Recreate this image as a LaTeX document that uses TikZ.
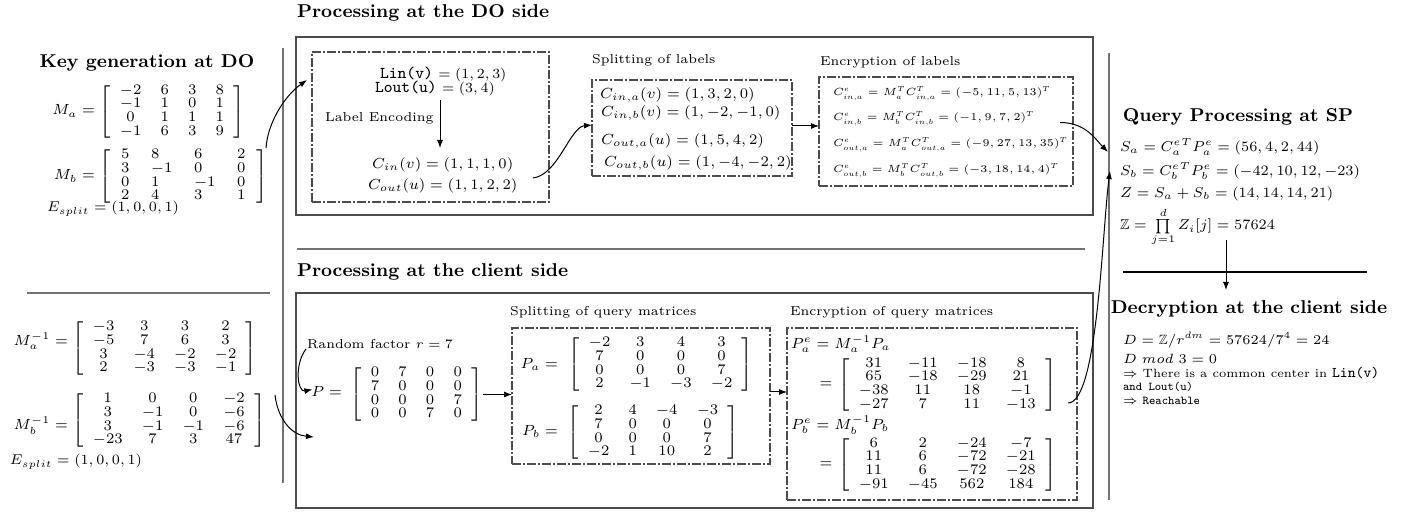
\RequirePackage{fix-cm}
\documentclass[tikz,border=0pt]{standalone}
\usepackage{amsmath,amssymb}
\usetikzlibrary{arrows.meta,calc,fit}
\setlength\arraycolsep{4.8pt}
\renewcommand\arraystretch{0.85}
\definecolor{lgray}{gray}{0.45}
\definecolor{dgray}{gray}{0.3}
\newcommand\ttA[1]{{\fontsize{8.3}{9}\selectfont\texttt{#1}}}
\newcommand\ttB[1]{{\fontsize{7.4}{9}\selectfont\texttt{#1}}}
\tikzset{
 every node/.style={inner sep=0pt, outer sep=0pt},
 head/.style={font=\fontsize{9.3}{11}\selectfont\bfseries},
 subt/.style={font=\fontsize{6.47}{8}\selectfont},
 fA/.style={font=\fontsize{7}{8}\selectfont},
 fC/.style={font=\fontsize{7.3}{9}\selectfont},
 fEs/.style={font=\fontsize{7.1}{8}\selectfont},
 fS/.style={font=\fontsize{7.34}{9}\selectfont},
 fE/.style={font=\fontsize{5.2}{7}\selectfont},
 mat/.style={font=\fontsize{7.34}{8}\selectfont},
 fQ/.style={font=\fontsize{7.17}{9}\selectfont},
 fD/.style={font=\fontsize{6.7}{8}\selectfont},
 fT/.style={font=\fontsize{6.0}{7}\selectfont},
 frame/.style={draw=dgray, line width=0.8pt},
 ddbox/.style={draw=dgray, line width=0.6pt, dash pattern=on 4.5pt off 1.2pt on 0.6pt off 1.2pt},
 sepline/.style={draw=lgray, line width=0.9pt},
 arr/.style={-{Latex[length=4pt,width=3pt]}, line width=0.5pt},
}
\begin{document}
\begin{tikzpicture}[x=0.5pt,y=0.5pt]
\useasboundingbox (0,0) rectangle (1424,-512);
% separators
\draw[sepline] (283,-48) -- (283,-483);
\draw[sepline] (1109,-53) -- (1109,-500);
\draw[sepline] (27,-293) -- (270,-293);
\draw[sepline] (297,-249) -- (1085,-249);
\draw[line width=0.6pt] (1123,-272) -- (1367,-272);

% ---------- Key generation ----------
\node[head] (keyhead) at (147,-63) {Key generation at DO};
\node[mat, anchor=base east] (MaL) at (95,-115) {$M_a =$};
\node[mat, anchor=west] (Ma) at (99,-112) {$\left[\begin{array}{cccc} -2&6&3&8\\ -1&1&0&1\\ 0&1&1&1\\ -1&6&3&9 \end{array}\right]$};
\node[mat, anchor=base east] (MbL) at (95,-180) {$M_b =$};
\node[mat, anchor=west] (Mb) at (99,-176.5) {$\setlength\arraycolsep{5.4pt}\left[\begin{array}{llll} 5&8&6&2\\ 3&-1&0&0\\ 0&1&-1&0\\ 2&4&3&1 \end{array}\right]$};
\node[fEs, anchor=base west] (Es1) at (47,-212) {$E_{split} = (1,0,0,1)$};

\node[mat, anchor=base east] (MaiL) at (68,-345.5) {$M_a^{-1} =$};
\node[mat, anchor=west] (Mai) at (72,-348.5) {$\left[\begin{array}{cccc} -3&3&3&2\\ -5&7&6&3\\ 3&-4&-2&-2\\ 2&-3&-3&-1 \end{array}\right]$};
\node[mat, anchor=base east] (MbiL) at (68,-430) {$M_b^{-1} =$};
\node[mat, anchor=west] (Mbi) at (72,-420.5) {$\left[\begin{array}{cccc} 1&0&0&-2\\ 3&-1&0&-6\\ 3&-1&-1&-6\\ -23&7&3&47 \end{array}\right]$};
\node[fEs, anchor=base west] (Es2) at (10,-465) {$E_{split} = (1,0,0,1)$};

% ---------- DO side ----------
\node[head, anchor=west] (dohead) at (297,-13) {Processing at the DO side};
\node[fit={(296,-37) (1093,-215)}, frame] (dobox) {};
\node[fit={(312,-52) (549,-202)}, ddbox] (b1) {};
\node[fA, anchor=west] (lin) at (380,-74) {\ttA{Lin(v)} $=(1,2,3)$};
\node[fA, anchor=west] (lout) at (375,-88) {\ttA{Lout(u)} $=(3,4)$};
\node[subt, anchor=west] (lenc) at (325,-118) {Label Encoding};
\coordinate (le1) at (440,-100);
\coordinate (le2) at (440,-148);
\draw[arr] (le1) -- (le2);
\node[fC, anchor=west] (cin) at (372,-165) {$C_{in}(v) = (1,1,1,0)$};
\node[fC, anchor=west] (cout) at (368,-186) {$C_{out}(u) = (1,1,2,2)$};

\node[subt, anchor=west] (splT) at (592,-60) {Splitting of labels};
\node[fit={(592,-80) (792,-176)}, ddbox] (b2) {};
\node[fS, anchor=west] (s1) at (600,-95) {$C_{in,a}(v) = (1,3,2,0)$};
\node[fS, anchor=west] (s2) at (601,-113) {$C_{in,b}(v) = (1,-2,-1,0)$};
\node[fS, anchor=west] (s3) at (601,-141) {$C_{out,a}(u) = (1,5,4,2)$};
\node[fS, anchor=west] (s4) at (604,-163) {$C_{out,b}(u) = (1,-4,-2,2)$};

\node[subt, anchor=west] (encT) at (820,-62) {Encryption of labels};
\node[fit={(819,-77) (1073,-186)}, ddbox] (b3) {};
\node[fE, anchor=west] (e1) at (833,-94) {$C^e_{in,a} = M_a^T C_{in,a}^T = (-5,11,5,13)^T$};
\node[fE, anchor=west] (e2) at (833,-119) {$C^e_{in,b} = M_b^T C_{in,b}^T = (-1,9,7,2)^T$};
\node[fE, anchor=west] (e3) at (833,-145) {$C^e_{out,a} = M_a^T C_{out,a}^T = (-9,27,13,35)^T$};
\node[fE, anchor=west] (e4) at (833,-171) {$C^e_{out,b} = M_b^T C_{out,b}^T = (-3,18,14,4)^T$};

% ---------- client side ----------
\node[head, anchor=west] (clhead) at (297,-272) {Processing at the client side};
\node[fit={(296,-293) (1093,-508)}, frame] (clbox) {};
\node[subt, anchor=west] (rf) at (307,-344) {Random factor $r=7$};
\node[mat, anchor=base east] (PL) at (342,-396.5) {$P =$};
\node[mat, anchor=west] (P) at (350,-394.5) {$\left[\begin{array}{cccc} 0&7&0&0\\ 7&0&0&0\\ 0&0&0&7\\ 0&0&7&0 \end{array}\right]$};

\node[subt, anchor=west] (qsT) at (510,-312) {Splitting of query matrices};
\node[fit={(512,-328) (770,-464)}, ddbox] (b4) {};
\node[mat, anchor=base east] (PaL) at (558,-368.5) {$P_a =$};
\node[mat, anchor=west] (Pa) at (568,-364.5) {$\left[\begin{array}{cccc} -2&3&4&3\\ 7&0&0&0\\ 0&0&0&7\\ 2&-1&-3&-2 \end{array}\right]$};
\node[mat, anchor=base east] (PbL) at (558,-435.5) {$P_b =$};
\node[mat, anchor=west] (Pb) at (567,-432.5) {$\left[\begin{array}{cccc} 2&4&-4&-3\\ 7&0&0&0\\ 0&0&0&7\\ -2&1&10&2 \end{array}\right]$};

\node[subt, anchor=west] (qeT) at (790,-312) {Encryption of query matrices};
\node[fit={(787,-328) (1077,-500)}, ddbox] (b5) {};
\node[mat, anchor=west] (PaeL) at (791,-344) {$P_a^e = M_a^{-1} P_a$};
\node[mat] (eq1) at (826,-385) {$=$};
\node[mat, anchor=west] (Pae) at (838,-385) {$\left[\begin{array}{cccc} 31&-11&-18&8\\ 65&-18&-29&21\\ -38&11&18&-1\\ -27&7&11&-13 \end{array}\right]$};
\node[mat, anchor=west] (PbeL) at (791,-425) {$P_b^e = M_b^{-1} P_b$};
\node[mat] (eq2) at (826,-465) {$=$};
\node[mat, anchor=west] (Pbe) at (838,-465) {$\left[\begin{array}{cccc} 6&2&-24&-7\\ 11&6&-72&-21\\ 11&6&-72&-28\\ -91&-45&562&184 \end{array}\right]$};

% ---------- SP ----------
\node[head] (sphead) at (1238,-117) {Query Processing at SP};
\node[fQ, anchor=west] (sa) at (1120,-147) {$S_a = {C_a^e}^T P_a^e = (56,4,2,44)$};
\node[fQ, anchor=west] (sb) at (1120,-171) {$S_b = {C_b^e}^T P_b^e = (-42,10,12,-23)$};
\node[fQ, anchor=west] (zz) at (1120,-194) {$Z = S_a + S_b = (14,14,14,21)$};
\node[fQ, anchor=base west] (zp) at (1120,-230) {$\mathbb{Z} = \prod\limits_{j=1}^{d} Z_i[j] = 57624$};
\coordinate (v1) at (1226,-240);
\coordinate (v2) at (1226,-290);
\draw[arr] (v1) -- (v2);

\node[head] (dechead) at (1249,-309) {Decryption at the client side};
\node[fD, anchor=west] (d1) at (1123,-340) {$D = \mathbb{Z}/r^{dm} = 57624/7^4 = 24$};
\node[fD, anchor=west] (d2) at (1123,-359) {$D~mod~3 = 0$};
\node[fT, anchor=west] (d3) at (1123,-373) {$\Rightarrow$ There is a common center in \ttB{Lin(v)}};
\node[fT, anchor=west] (d4) at (1123,-387) {\texttt{and Lout(u)}};
\node[fT, anchor=west] (d5) at (1123,-401) {$\Rightarrow$ \texttt{Reachable}};

% ---------- connectors ----------
\coordinate (k1) at (266,-148);
\coordinate (k2) at ($(b1.north west)+(-5,-28)$);
\draw[arr] (k1) .. controls +(2,28) and +(-20,-14) .. (k2);

\coordinate (c1) at ($(b1.south east)+(-16,24)$);
\coordinate (c2) at (b2.west |- 0,-125);
\draw[arr] (c1) .. controls +(25,3) and +(-22,-2) .. (c2);

\draw[arr] (b2.east |- 0,-126) -- (b3.west |- 0,-126);

\coordinate (q1) at ($(b3.east)+(-13,9)$);
\coordinate (q2) at (1108,-152);
\draw[arr] (q1) .. controls +(26,0) and +(-12,12) .. (q2);

\coordinate (r1) at ($(b5.east)+(-9,11)$);
\coordinate (r2) at (1110,-171);
\draw[arr] (r1) .. controls +(30,0) and +(-8,-60) .. (r2);

\coordinate (f1) at ($(rf.west)+(-1,-5)$);
\coordinate (f2) at ($(PL.west)+(1,2)$);
\draw[arr] (f1) .. controls +(-12,-16) and +(-15,-3) .. (f2);

\coordinate (m1) at (275,-395);
\coordinate (m2) at (314,-437);
\draw[arr] (m1) .. controls +(3,-25) and +(-22,2) .. (m2);

\draw[arr] (P.east) -- (P.east -| b4.west);
\draw[arr] (b4.east |- 0,-392) -- (b5.west |- 0,-392);
\end{tikzpicture}
\end{document}
